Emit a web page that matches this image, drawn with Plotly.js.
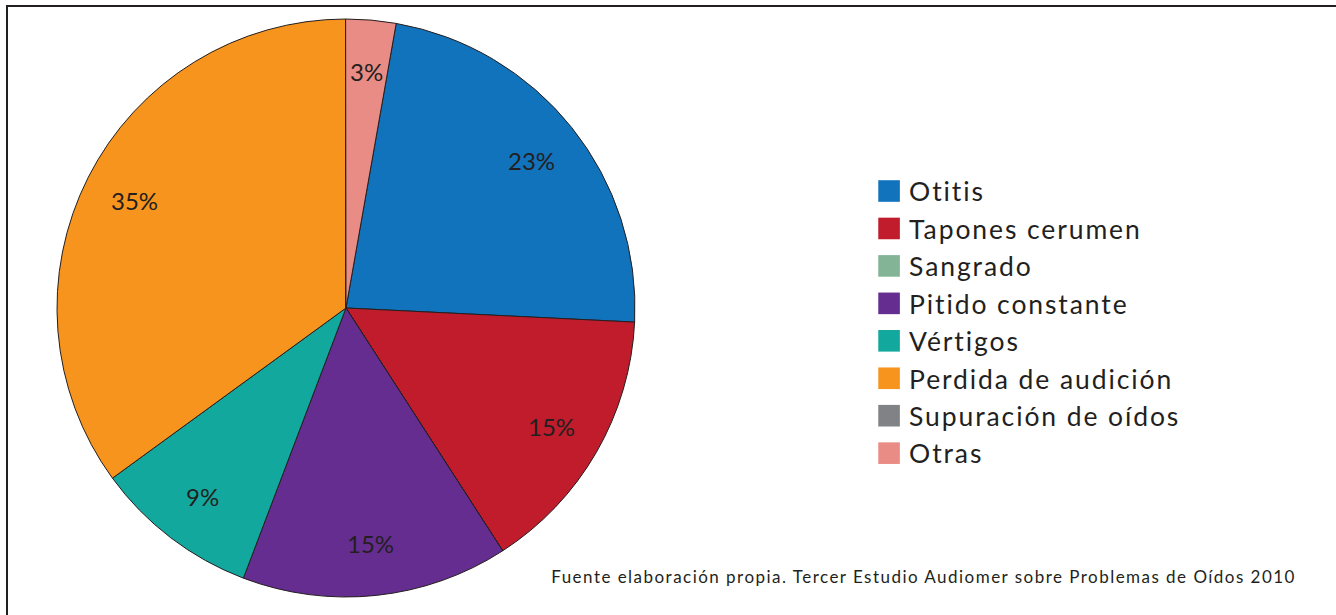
<!DOCTYPE html>
<html>
<head>
<meta charset="utf-8">
<script src="https://cdn.plot.ly/plotly-3.0.1.min.js"></script>
<style>
  html, body { margin: 0; padding: 0; background: #ffffff; }
  #chart { width: 1336px; height: 615px; position: absolute; left: 0; top: 0; }
  #frame { position: absolute; left: 6px; top: 5px; width: 1340px; height: 620px;
           border-top: 2.5px solid #231f20; border-left: 2.5px solid #231f20; pointer-events: none; }
</style>
</head>
<body>
<div id="chart"></div>
<div id="frame"></div>
<script>
const categories = ["Otitis", "Tapones cerumen", "Sangrado", "Pitido constante", "Vértigos", "Perdida de audición", "Supuración de oídos", "Otras"];
const values = [23, 15.1, 0, 14.9, 9.2, 35, 0, 2.8];
const colors = ["#1173bc", "#c01c2c", "#82b495", "#662d91", "#13a89e", "#f7941d", "#808285", "#e98c85"];
const sourceNote = "Fuente elaboración propia. Tercer Estudio Audiomer sobre Problemas de Oídos 2010";

const W = 1336, H = 615;
const FONT = "Lato, 'Open Sans', sans-serif";
const INK = "#231f20";
const ROTATION = 10;
const pieDomain = { x: [0.04266, 0.4753], y: [0.0293, 0.9691] };
const LABEL_RADIUS = 0.82;

const total = values.reduce((a, b) => a + b, 0);

const pieTrace = {
  type: "pie",
  labels: categories,
  values: values,
  textinfo: "none",
  sort: false,
  direction: "clockwise",
  rotation: ROTATION,
  marker: { colors: colors, line: { color: INK, width: 1 } },
  domain: pieDomain,
  hoverinfo: "label+percent"
};

// Percentage labels placed at each slice's mid-angle, in the outer part of the slice
const cxP = (pieDomain.x[0] + pieDomain.x[1]) / 2;
const cyP = (pieDomain.y[0] + pieDomain.y[1]) / 2;
const rPx = Math.min((pieDomain.x[1] - pieDomain.x[0]) * W, (pieDomain.y[1] - pieDomain.y[0]) * H) / 2;
const sliceLabels = [];
let cum = 0;
values.forEach(v => {
  if (v > 0) {
    const a = (ROTATION + (cum + v / 2) / total * 360) * Math.PI / 180;
    sliceLabels.push({
      text: Math.round(v / total * 100) + "%",
      xref: "paper", yref: "paper",
      x: cxP + LABEL_RADIUS * rPx * Math.sin(a) / W,
      y: cyP + LABEL_RADIUS * rPx * Math.cos(a) / H,
      xanchor: "center", yanchor: "middle",
      showarrow: false,
      font: { family: FONT, size: 24, color: INK }
    });
  }
  cum += v;
});

const layout = {
  width: W,
  height: H,
  margin: { l: 0, r: 0, t: 0, b: 0 },
  paper_bgcolor: "#ffffff",
  showlegend: true,
  legend: {
    x: 0.6505, xanchor: "left",
    y: 0.728, yanchor: "top",
    font: { family: FONT, size: 26.5, color: INK },
    bgcolor: "rgba(0,0,0,0)",
    traceorder: "normal"
  },
  annotations: sliceLabels.concat([{
    text: sourceNote,
    xref: "paper", yref: "paper",
    x: 923 / W, y: 0.062,
    xanchor: "center", yanchor: "middle",
    showarrow: false,
    font: { family: FONT, size: 17, color: INK }
  }])
};

Plotly.newPlot("chart", [pieTrace], layout, { displayModeBar: false, staticPlot: true }).then(gd => {
  // larger legend swatches, as in the reference
  gd.querySelectorAll(".legend .legendpoints path").forEach(p => {
    const t = p.getAttribute("transform") || "";
    p.setAttribute("transform", t + " scale(1.8)");
    p.style.strokeWidth = "0px";
  });
  // wider letter spacing to approximate the reference typeface
  gd.querySelectorAll(".legend text.legendtext").forEach(t => { t.style.letterSpacing = "1.9px"; });
  gd.querySelectorAll(".legend [clip-path]").forEach(el => el.removeAttribute("clip-path"));
  const anns = gd.querySelectorAll("text.annotation-text");
  const src = anns[anns.length - 1];
  if (src) src.style.letterSpacing = "1.47px";
});
</script>
</body>
</html>
